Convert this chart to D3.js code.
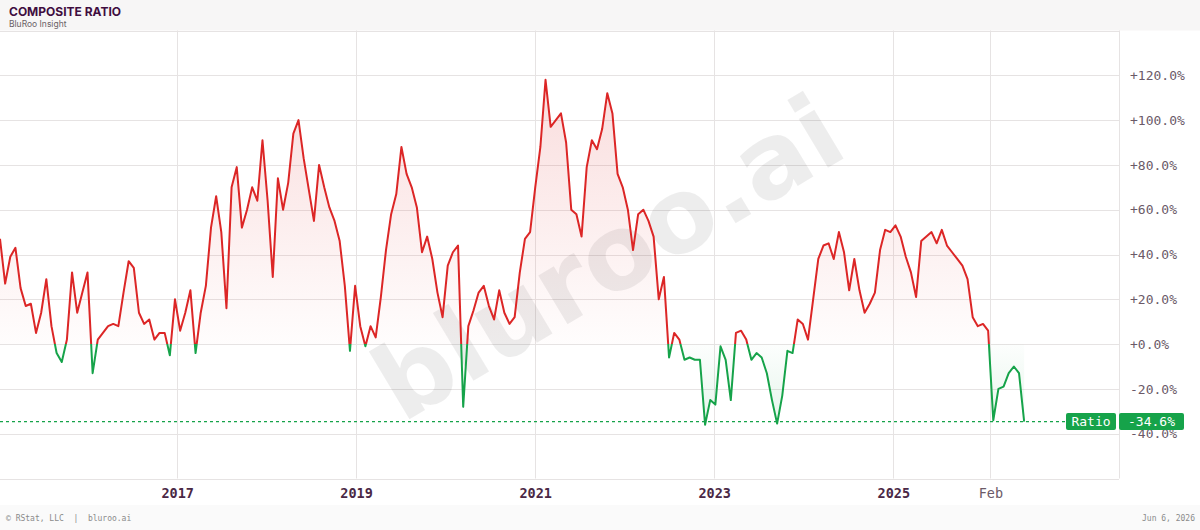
<!DOCTYPE html>
<html>
<head>
<meta charset="utf-8">
<script src="https://cdn.jsdelivr.net/npm/d3@7"></script>
<style>
  body { margin: 0; background: #fff; }
  svg { display: block; }
</style>
</head>
<body>
<script>
// series: one reading every 3 weeks, starting 2015-01-09
var startDate = "2015-01-09";
var stepDays = 21;
var ratio = [
  47, 27, 39, 43, 25, 17, 18, 5, 14, 29,
  8, -4, -8, 2, 32, 14, 23, 32, -13, 2,
  5, 8, 9, 8, 23, 37, 34, 14, 9, 11,
  2, 5, 5, -5, 20, 6, 14, 24, -4, 14,
  26, 52, 66, 50, 16, 70, 79, 52, 60, 70,
  64, 91, 64, 30, 74, 60, 72, 94, 100, 83,
  69, 55, 80, 70, 61, 55, 46, 26, -3, 26,
  8, -1, 8, 3, 21, 42, 58, 67, 88, 76,
  70, 61, 41, 48, 38, 23, 12, 35, 41, 44,
  -28, 8, 15, 23, 26, 17, 11, 24, 14, 9,
  12, 32, 47, 50, 70, 88, 118, 97, 100, 103,
  90, 60, 58, 48, 79, 91, 87, 96, 112, 103,
  76, 70, 60, 42, 58, 60, 55, 48, 20, 30,
  -6, 5, 2, -7, -6, -7, -7, -36, -25, -27,
  -1, -7, -25, 5, 6, 2, -7, -4, -6, -13,
  -25, -35.5, -23, -3, -4, 11, 9, 2, 20, 38,
  44, 45, 38, 50, 41, 24, 38, 24, 14, 18,
  23, 42, 51, 50, 53, 48, 39, 32, 21, 46,
  48, 50, 45, 51, 44, 41, 38, 35, 29, 12,
  8, 9, 6, -34, -20, -19, -13, -10, -13, -34.6
];
var yTicks = [-60, -40, -20, 0, 20, 40, 60, 80, 100, 120, 140];
var yLabelTicks = [-40, -20, 0, 20, 40, 60, 80, 100, 120];
var xTickDates = ["2017-01-01", "2019-01-01", "2021-01-01", "2023-01-01", "2025-01-01", "2026-02-01"];
var xTickLabels = ["2017", "2019", "2021", "2023", "2025", "Feb"];
var seriesName = "Ratio";

var W = 1200, H = 530;
var plotRight = 1119, plotTop = 30.5, plotBottom = 478.5;
var red = "#dc2626", green = "#16a34a";
var mono = "'DejaVu Sans Mono', 'Liberation Mono', monospace";

var parse = d3.utcParse("%Y-%m-%d");
var t0 = parse(startDate);
var data = ratio.map(function(v, i) {
  return { date: d3.utcDay.offset(t0, i * stepDays), value: v };
});
var last = data[data.length - 1];

var x = d3.scaleUtc()
  .domain([parse("2015-01-09"), parse("2027-07-11")])
  .range([0, plotRight]);
var y = d3.scaleLinear().domain([-60, 140]).range([plotBottom, plotTop]);

var svg = d3.select("body").append("svg")
  .attr("width", W)
  .attr("height", H)
  .style("font-family", mono);

var defs = svg.append("defs");
defs.append("clipPath").attr("id", "above")
  .append("rect").attr("x", 0).attr("y", plotTop).attr("width", plotRight).attr("height", y(0) - plotTop);
defs.append("clipPath").attr("id", "below")
  .append("rect").attr("x", 0).attr("y", y(0)).attr("width", plotRight).attr("height", plotBottom - y(0));

var gRed = defs.append("linearGradient").attr("id", "gRed")
  .attr("gradientUnits", "userSpaceOnUse")
  .attr("x1", 0).attr("x2", 0).attr("y1", y(120)).attr("y2", y(0));
gRed.append("stop").attr("offset", 0).attr("stop-color", red).attr("stop-opacity", 0.16);
gRed.append("stop").attr("offset", 1).attr("stop-color", red).attr("stop-opacity", 0.01);

var gGreen = defs.append("linearGradient").attr("id", "gGreen")
  .attr("gradientUnits", "userSpaceOnUse")
  .attr("x1", 0).attr("x2", 0).attr("y1", y(0)).attr("y2", y(-40));
gGreen.append("stop").attr("offset", 0).attr("stop-color", green).attr("stop-opacity", 0.01);
gGreen.append("stop").attr("offset", 1).attr("stop-color", green).attr("stop-opacity", 0.12);

// header and footer bands
svg.append("rect").attr("x", 0).attr("y", 0).attr("width", W).attr("height", plotTop).attr("fill", "#f7f6f6");
svg.append("rect").attr("x", 0).attr("y", 505).attr("width", W).attr("height", 25).attr("fill", "#fafafa");

svg.append("text").attr("x", 9).attr("y", 15.5)
  .style("font-family", "Inter, 'Noto Sans', sans-serif")
  .attr("font-size", 12).attr("font-weight", 700).attr("fill", "#3f0d3f")
  .text("COMPOSITE RATIO");
svg.append("text").attr("x", 9).attr("y", 26.5)
  .style("font-family", "Inter, 'Noto Sans', sans-serif")
  .attr("font-size", 8.5).attr("fill", "#6b6266")
  .text("BluRoo Insight");

// grid
var grid = svg.append("g").attr("stroke", "#e6e3e3").attr("stroke-width", 1);
grid.selectAll("line.h").data(yTicks).enter().append("line")
  .attr("x1", 0).attr("x2", plotRight)
  .attr("y1", function(d) { return Math.round(y(d)) + 0.5; })
  .attr("y2", function(d) { return Math.round(y(d)) + 0.5; });
grid.selectAll("line.v").data(xTickDates).enter().append("line")
  .attr("y1", plotTop).attr("y2", plotBottom)
  .attr("x1", function(d) { return Math.round(x(parse(d))) + 0.5; })
  .attr("x2", function(d) { return Math.round(x(parse(d))) + 0.5; });
grid.append("line").attr("x1", plotRight + 0.5).attr("x2", plotRight + 0.5)
  .attr("y1", plotTop).attr("y2", plotBottom);

// watermark
svg.append("text")
  .attr("transform", "translate(608,258) rotate(-31)")
  .attr("text-anchor", "middle").attr("dominant-baseline", "central")
  .style("font-family", "'DejaVu Sans', sans-serif")
  .attr("font-size", 104).attr("font-weight", 700)
  .attr("fill", "#000").attr("fill-opacity", 0.07)
  .text("bluroo.ai");

// areas
var area = d3.area()
  .x(function(d) { return x(d.date); })
  .y0(y(0))
  .y1(function(d) { return y(d.value); });
svg.append("path").datum(data).attr("d", area)
  .attr("fill", "url(#gRed)").attr("clip-path", "url(#above)");
svg.append("path").datum(data).attr("d", area)
  .attr("fill", "url(#gGreen)").attr("clip-path", "url(#below)");

// line, red above zero and green below
var line = d3.line()
  .x(function(d) { return x(d.date); })
  .y(function(d) { return y(d.value); });
svg.append("path").datum(data).attr("d", line)
  .attr("fill", "none").attr("stroke", red).attr("stroke-width", 2)
  .attr("stroke-linejoin", "round").attr("clip-path", "url(#above)");
svg.append("path").datum(data).attr("d", line)
  .attr("fill", "none").attr("stroke", green).attr("stroke-width", 2)
  .attr("stroke-linejoin", "round").attr("clip-path", "url(#below)");

// last value dashed line
svg.append("line")
  .attr("x1", 0).attr("x2", 1066)
  .attr("y1", y(last.value)).attr("y2", y(last.value))
  .attr("stroke", green).attr("stroke-width", 1.3).attr("stroke-dasharray", "3,3");

// right axis
var yAxis = d3.axisRight(y)
  .tickValues(yLabelTicks)
  .tickSize(0)
  .tickPadding(11)
  .tickFormat(function(d) { return (d >= 0 ? "+" : "") + d.toFixed(1) + "%"; });
var ya = svg.append("g").attr("transform", "translate(" + plotRight + ",0)").call(yAxis);
ya.select(".domain").remove();
ya.selectAll("text").attr("font-family", mono).attr("font-size", 13).attr("fill", "#6b5a68");

// bottom axis
var xAxis = d3.axisBottom(x)
  .tickValues(xTickDates.map(parse))
  .tickSize(0)
  .tickPadding(10)
  .tickFormat(function(d, i) { return xTickLabels[i]; });
var xa = svg.append("g").attr("transform", "translate(0," + plotBottom + ")").call(xAxis);
xa.select(".domain").remove();
xa.selectAll("text").attr("font-family", mono).attr("font-size", 13.5)
  .attr("font-weight", function(d, i) { return xTickLabels[i] === "Feb" ? 400 : 700; })
  .attr("fill", function(d, i) { return xTickLabels[i] === "Feb" ? "#6b5a68" : "#4a2845"; });

// last value label
var ly = y(last.value);
svg.append("rect").attr("x", 1066).attr("y", ly - 8.5).attr("width", 50).attr("height", 17)
  .attr("rx", 2).attr("fill", green);
svg.append("text").attr("x", 1091).attr("y", ly).attr("text-anchor", "middle")
  .attr("dominant-baseline", "central").attr("font-size", 13).attr("fill", "#fff")
  .text(seriesName);
svg.append("rect").attr("x", 1119).attr("y", ly - 8.5).attr("width", 65).attr("height", 17)
  .attr("rx", 2).attr("fill", green);
svg.append("text").attr("x", 1151.5).attr("y", ly).attr("text-anchor", "middle")
  .attr("dominant-baseline", "central").attr("font-size", 13).attr("fill", "#fff")
  .text(last.value.toFixed(1) + "%");

// footer
svg.append("text").attr("x", 6).attr("y", 521).attr("font-size", 8).attr("fill", "#8a8a8a")
  .attr("xml:space", "preserve")
  .text("\u00a9 RStat, LLC  |  bluroo.ai");
svg.append("text").attr("x", 1195).attr("y", 521).attr("text-anchor", "end")
  .attr("font-size", 8).attr("fill", "#8a8a8a")
  .text("Jun 6, 2026");
</script>
</body>
</html>
